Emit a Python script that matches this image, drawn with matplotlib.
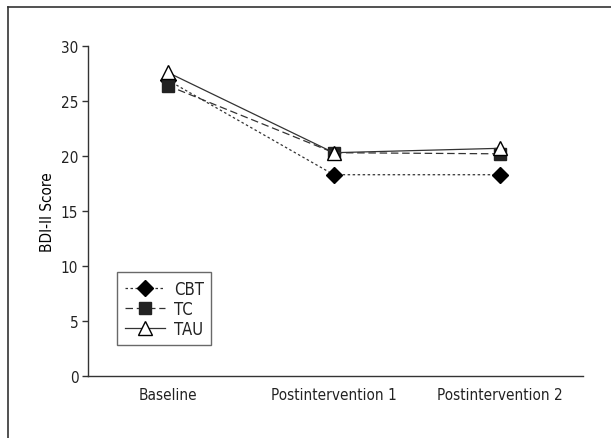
import matplotlib.pyplot as plt
from matplotlib.lines import Line2D

plt.rcParams["font.family"] = ["Liberation Sans Narrow", "DejaVu Sans"]
plt.rcParams["font.stretch"] = "condensed"
plt.rcParams["font.size"] = 11
plt.rcParams["text.color"] = "#222222"
plt.rcParams["xtick.color"] = "#333333"
plt.rcParams["ytick.color"] = "#333333"

# data
categories = ["Baseline", "Postintervention 1", "Postintervention 2"]
cbt = [26.9, 18.3, 18.3]
tc = [26.4, 20.3, 20.2]
tau = [27.6, 20.3, 20.7]

fig = plt.figure(figsize=(6.11, 4.39), dpi=100)
ax = fig.add_axes([0.144, 0.141, 0.81, 0.752])

x = range(len(categories))
ax.plot(x, cbt, linestyle=(0, (2, 2)), color="#333333", lw=0.9,
        marker="D", ms=8, mfc="black", mec="black", label="CBT")
ax.plot(x, tc, linestyle=(0, (6, 3)), color="#333333", lw=0.9,
        marker="s", ms=8, mfc="#222222", mec="#222222", label="TC")
ax.plot(x, tau, linestyle="-", color="#333333", lw=0.9,
        marker="^", ms=10, mfc="white", mec="black", mew=1.0, label="TAU")

ax.set_xlim(-0.48, 2.5)
ax.set_ylim(0, 30)
ax.set_yticks([0, 5, 10, 15, 20, 25, 30])
ax.set_xticks(list(x))
ax.set_xticklabels(categories)
ax.tick_params(axis="x", length=0, pad=8, labelsize=11, labelcolor="#222222")
ax.tick_params(axis="y", length=4, width=1, direction="out", labelsize=11, pad=3,
               labelcolor="#222222")
ax.set_ylabel("BDI-II Score", fontsize=11, labelpad=4)

for s in ["top", "right"]:
    ax.spines[s].set_visible(False)
for s in ["left", "bottom"]:
    ax.spines[s].set_linewidth(1.0)
    ax.spines[s].set_color("#333333")

leg = ax.legend(loc="upper left", bbox_to_anchor=(0.059, 0.315),
                borderaxespad=0, frameon=True, fancybox=False,
                handlelength=2.4, handletextpad=0.55, labelspacing=0.12,
                fontsize=12, borderpad=0.45)
leg.get_frame().set_edgecolor("#444444")
leg.get_frame().set_linewidth(1.0)

# outer frame (only left and top edges visible in crop)
fig.add_artist(Line2D([8 / 611, 8 / 611], [0, 1 - 8 / 439], transform=fig.transFigure,
                      color="#333333", lw=1.2))
fig.add_artist(Line2D([8 / 611, 1], [1 - 8 / 439, 1 - 8 / 439], transform=fig.transFigure,
                      color="#333333", lw=1.2))

fig.savefig("out.png", dpi=100)
